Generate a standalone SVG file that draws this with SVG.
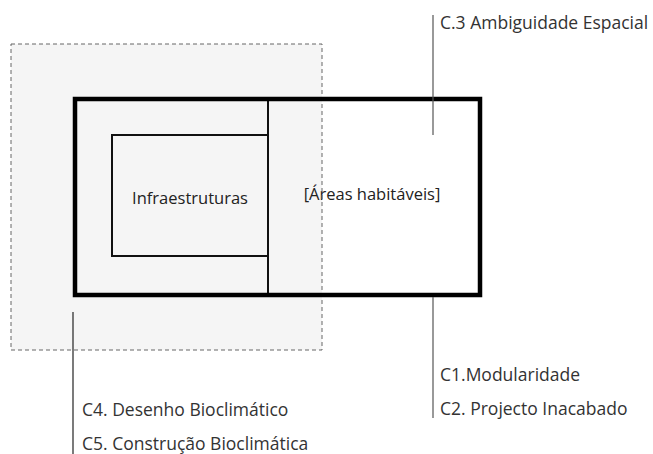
<svg xmlns="http://www.w3.org/2000/svg" width="653" height="454" viewBox="0 0 653 454">
  <style>
    .lbl { font-family: "Open Sans", "Noto Sans", "Liberation Sans", sans-serif; font-size: 17.5px; fill: #333; }
    .node-txt { font-family: "Open Sans", "Noto Sans", "Liberation Sans", sans-serif; font-size: 16.5px; fill: #222; text-anchor: middle; }
    .lead { stroke: #555; stroke-width: 1.2; fill: none; }
    .lead.dark { stroke: #222; }
  </style>
  <rect width="653" height="454" fill="#ffffff"/>

  <!-- bioclimatic envelope (dashed) -->
  <g id="envelope">
    <rect x="11" y="44" width="311" height="306" fill="#f5f5f5" stroke="none"/>
  </g>

  <!-- main module frame -->
  <g id="module">
    <rect x="268" y="99" width="212" height="196" fill="#ffffff"/>
    <rect x="268" y="99" width="54" height="196" fill="#f5f5f5"/>
    <line x1="268" y1="99" x2="268" y2="295" stroke="#111" stroke-width="2"/>
  </g>

  <g id="infraestruturas">
    <rect x="112" y="135" width="156" height="121" fill="#f5f5f5" stroke="#111" stroke-width="2"/>
    <text class="node-txt" x="190" y="204">Infraestruturas</text>
  </g>

  <g id="areas">
    <text class="node-txt" x="372" y="200">[Áreas habitáveis]</text>
  </g>

  <g id="envelope-edge">
    <rect x="11" y="44" width="311" height="306" fill="none" stroke="#666" stroke-width="1" stroke-dasharray="4,3"/>
  </g>

  <g id="module-frame">
    <rect x="75" y="99" width="405" height="196" fill="none" stroke="#000" stroke-width="4.5"/>
  </g>

  <!-- leader lines -->
  <g id="connectors">
    <line class="lead" x1="433" y1="15" x2="433" y2="135"/>
    <line class="lead" x1="433" y1="297" x2="433" y2="418"/>
    <line class="lead dark" x1="73" y1="312" x2="73" y2="454"/>
  </g>

  <g id="c3">
    <text class="lbl" x="440" y="29">C.3 Ambiguidade Espacial</text>
  </g>
  <g id="c1-c2">
    <text class="lbl" x="440" y="381">C1.Modularidade</text>
    <text class="lbl" x="440" y="415">C2. Projecto Inacabado</text>
  </g>
  <g id="c4-c5">
    <text class="lbl" x="82" y="416">C4. Desenho Bioclimático</text>
    <text class="lbl" x="82" y="450">C5. Construção Bioclimática</text>
  </g>
</svg>
